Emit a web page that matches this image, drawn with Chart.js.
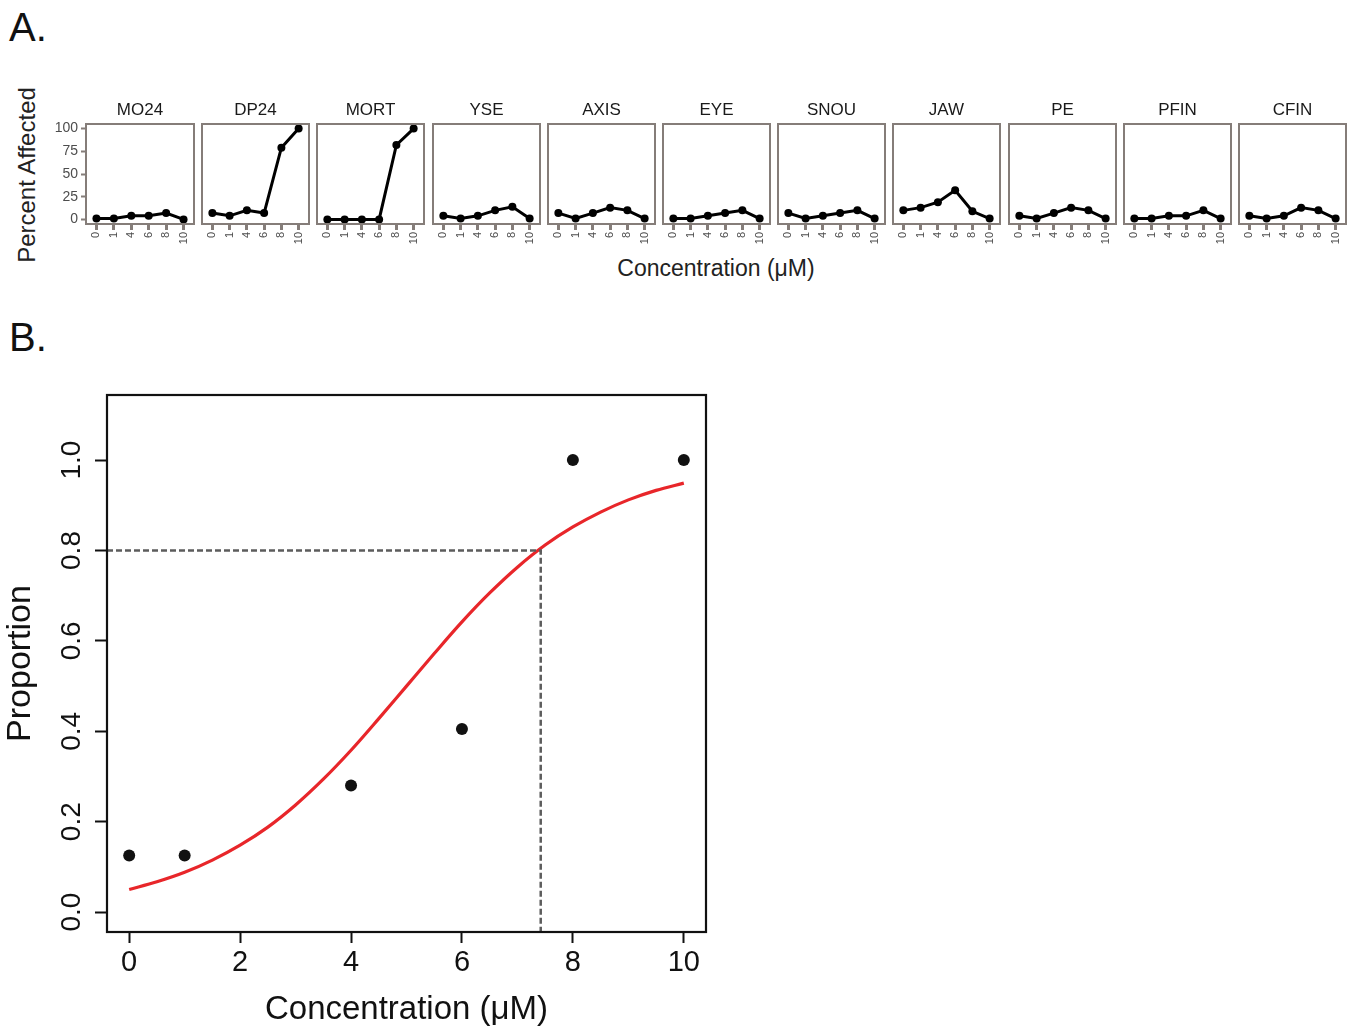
<!DOCTYPE html>
<html>
<head>
<meta charset="utf-8">
<script src="https://cdn.jsdelivr.net/npm/chart.js@4.4.1/dist/chart.umd.min.js"></script>
<style>
    body { margin: 0; background: #fff; font-family: "Liberation Sans", Arial, sans-serif; }
    #fig { position: relative; width: 1356px; height: 1030px; overflow: hidden; background: #fff; }
    #fig canvas { position: absolute; }
    .lbl { position: absolute; white-space: nowrap; line-height: 1; color: #111; }
    .mid { transform: translate(-50%, -50%); }
    .rot { transform: translate(-50%, -50%) rotate(-90deg); }
</style>
</head>
<body>
<div id="fig">
    <div class="lbl" style="left:9px;top:7px;font-size:40px;">A.</div>
    <div class="lbl" style="left:9px;top:317px;font-size:40px;">B.</div>
    <div class="lbl rot" style="left:27px;top:175px;font-size:24px;color:#222;">Percent Affected</div>
    <div class="lbl mid" style="left:716px;top:268px;font-size:23px;color:#222;">Concentration (μM)</div>
</div>

<script>
/* ---------- Panel A: % affected per endpoint ---------- */
const concLabels = ['0', '1', '4', '6', '8', '10'];
const endpoints = ['MO24', 'DP24', 'MORT', 'YSE', 'AXIS', 'EYE', 'SNOU', 'JAW', 'PE', 'PFIN', 'CFIN'];
const mo24 = [1, 1, 4, 4, 7, 0];
const dp24 = [7, 4, 10, 7, 79, 100];
const mort = [0, 0, 0, 0, 82, 100];
const yse  = [4, 1, 4, 10, 14, 1];
const axis = [7, 1, 7, 13, 10, 1];
const eye  = [1, 1, 4, 7, 10, 1];
const snou = [7, 1, 4, 7, 10, 1];
const jaw  = [10, 13, 19, 32, 9, 1];
const pe   = [4, 1, 7, 13, 10, 1];
const pfin = [1, 1, 4, 4, 10, 1];
const cfin = [4, 1, 4, 13, 10, 1];
const percentTicks = [0, 25, 50, 75, 100];

/* ---------- Panel B: proportion vs concentration ---------- */
const doseConc = [0, 1, 4, 6, 8, 10];
const doseProp = [0.125, 0.125, 0.28, 0.405, 1.0, 1.0];
const fitConc = [0, 0.5, 1, 1.5, 2, 2.5, 3, 3.5, 4, 4.5, 5, 5.5, 6, 6.5, 7, 7.5, 8, 8.5, 9, 9.5, 10];
const fitProp = [0.05, 0.067, 0.088, 0.115, 0.148, 0.188, 0.237, 0.294, 0.358, 0.428, 0.5,
                 0.572, 0.642, 0.706, 0.763, 0.812, 0.852, 0.885, 0.912, 0.933, 0.949];
const ec80Conc = 7.42;
const ec80Prop = 0.8;
const propTicks = [0, 0.2, 0.4, 0.6, 0.8, 1.0];
const concTicks = [0, 2, 4, 6, 8, 10];

const seriesA = [mo24, dp24, mort, yse, axis, eye, snou, jaw, pe, pfin, cfin];
const fig = document.getElementById('fig');
const FONT = '"Liberation Sans", Arial, sans-serif';
const FRAME_A = '#857d79';
const TEXT_A = '#4d4d4d';

// box around the plotting area (ggplot panel border / R box())
const framePlugin = {
    id: 'frame',
    afterDraw(chart, args, opts) {
        const { ctx, chartArea: a } = chart;
        ctx.save();
        ctx.strokeStyle = opts.color;
        ctx.lineWidth = opts.width;
        ctx.strokeRect(a.left, a.top, a.right - a.left, a.bottom - a.top);
        ctx.restore();
    }
};

// facet strip label, centred over the panel itself
const stripPlugin = {
    id: 'strip',
    afterDraw(chart, args, opts) {
        const { ctx, chartArea: a } = chart;
        ctx.save();
        ctx.font = opts.font;
        ctx.fillStyle = opts.color;
        ctx.textAlign = 'center';
        ctx.textBaseline = 'middle';
        ctx.fillText(opts.text, (a.left + a.right) / 2, a.top - opts.gap);
        ctx.restore();
    }
};

// R style y tick labels, turned to read bottom-up
const sideTicksPlugin = {
    id: 'sideTicks',
    afterDraw(chart, args, opts) {
        const sc = chart.scales.y;
        const ctx = chart.ctx;
        ctx.save();
        ctx.font = opts.font;
        ctx.fillStyle = opts.color;
        ctx.textAlign = 'center';
        ctx.textBaseline = 'middle';
        sc.ticks.forEach(t => {
            ctx.save();
            ctx.translate(opts.x, sc.getPixelForValue(t.value));
            ctx.rotate(-Math.PI / 2);
            ctx.fillText(t.value.toFixed(1), 0, 0);
            ctx.restore();
        });
        ctx.restore();
    }
};

function addCanvas(left, top, w, h) {
    const c = document.createElement('canvas');
    c.width = w; c.height = h;
    c.style.left = left + 'px';
    c.style.top = top + 'px';
    c.style.width = w + 'px';
    c.style.height = h + 'px';
    fig.appendChild(c);
    return c;
}

// facets
const PANEL_L = 86, PANEL_STEP = 115.2, PANEL_W = 109, PANEL_TOP = 124, PANEL_H = 100;
const TITLE_H = 28, XAX_H = 30, YAX_W = 40;

endpoints.forEach((name, i) => {
    const first = i === 0;
    const areaLeft = Math.round(PANEL_L + i * PANEL_STEP);
    const padL = first ? 0 : 3;
    const left = areaLeft - (first ? YAX_W : padL);
    const w = PANEL_W + (first ? YAX_W : padL) + 3;
    const h = TITLE_H + PANEL_H + XAX_H;
    const cv = addCanvas(left, PANEL_TOP - TITLE_H, w, h);

    new Chart(cv, {
        type: 'line',
        data: {
            datasets: [{
                data: seriesA[i].map((v, k) => ({ x: k, y: v })),
                borderColor: '#000',
                borderWidth: 3,
                pointRadius: 4,
                pointBackgroundColor: '#000',
                pointBorderWidth: 0,
                tension: 0,
                clip: false
            }]
        },
        options: {
            responsive: false,
            animation: false,
            devicePixelRatio: 1,
            layout: { padding: { left: padL, right: 3, top: TITLE_H, bottom: 0 } },
            plugins: {
                legend: { display: false },
                tooltip: { enabled: false },
                strip: { text: name, font: '17px ' + FONT, color: '#1a1a1a', gap: 14 },
                frame: { color: FRAME_A, width: 2 }
            },
            scales: {
                x: {
                    type: 'linear',
                    min: -0.6,
                    max: 5.6,
                    afterBuildTicks: s => { s.ticks = concLabels.map((_, k) => ({ value: k })); },
                    afterFit: s => { s.height = XAX_H; s.paddingLeft = 0; s.paddingRight = 0; },
                    border: { display: false },
                    grid: { drawOnChartArea: false, tickLength: 6, tickWidth: 3, tickColor: FRAME_A },
                    ticks: {
                        autoSkip: false,
                        minRotation: 90,
                        maxRotation: 90,
                        padding: 2,
                        color: TEXT_A,
                        font: { family: FONT, size: 11 },
                        callback: v => concLabels[v]
                    }
                },
                y: {
                    display: first,
                    min: -5,
                    max: 105,
                    afterBuildTicks: s => { s.ticks = percentTicks.map(v => ({ value: v })); },
                    afterFit: s => { s.width = first ? YAX_W : 0; s.paddingTop = 0; s.paddingBottom = 0; },
                    border: { display: false },
                    grid: { drawOnChartArea: false, tickLength: 5, tickWidth: 2, tickColor: FRAME_A },
                    ticks: {
                        padding: 3,
                        color: TEXT_A,
                        font: { family: FONT, size: 14 }
                    }
                }
            }
        },
        plugins: [framePlugin, stripPlugin]
    });
});

// panel B
const cvB = addCanvas(0, 380, 720, 650);

new Chart(cvB, {
    type: 'scatter',
    data: {
        datasets: [
            {
                label: 'cutoff',
                data: [{ x: -0.4, y: ec80Prop }, { x: ec80Conc, y: ec80Prop }, { x: ec80Conc, y: -0.044 }],
                showLine: true,
                borderColor: '#5c5c5c',
                borderWidth: 2.5,
                borderDash: [6, 3],
                pointRadius: 0,
                tension: 0
            },
            {
                label: 'fit',
                data: fitConc.map((x, k) => ({ x, y: fitProp[k] })),
                showLine: true,
                borderColor: '#e8262a',
                borderWidth: 3.2,
                pointRadius: 0,
                cubicInterpolationMode: 'monotone'
            },
            {
                label: 'observed',
                data: doseConc.map((x, k) => ({ x, y: doseProp[k] })),
                pointRadius: 6,
                pointBackgroundColor: '#111',
                pointBorderWidth: 0
            }
        ]
    },
    options: {
        responsive: false,
        animation: false,
        devicePixelRatio: 1,
        layout: { padding: { left: 0, right: 14, top: 15, bottom: 0 } },
        plugins: {
            legend: { display: false },
            tooltip: { enabled: false },
            frame: { color: '#111', width: 2.2 },
            sideTicks: { x: 72, font: '28px ' + FONT, color: '#111' }
        },
        scales: {
            x: {
                type: 'linear',
                min: -0.4,
                max: 10.4,
                afterBuildTicks: s => { s.ticks = concTicks.map(v => ({ value: v })); },
                afterFit: s => { s.height = 98; },
                border: { display: false },
                grid: { drawOnChartArea: false, tickLength: 11, tickWidth: 2, tickColor: '#111' },
                ticks: {
                    padding: 3,
                    color: '#111',
                    font: { family: FONT, size: 29 },
                    maxRotation: 0,
                    callback: v => String(v)
                },
                title: {
                    display: true,
                    text: 'Concentration (μM)',
                    color: '#111',
                    font: { family: FONT, size: 33, lineHeight: 1.2 },
                    padding: { top: 0, bottom: 0 }
                }
            },
            y: {
                min: -0.044,
                max: 1.144,
                afterBuildTicks: s => { s.ticks = propTicks.map(v => ({ value: v })); },
                afterFit: s => { s.width = 107; },
                border: { display: false },
                grid: { drawOnChartArea: false, tickLength: 12, tickWidth: 2, tickColor: '#111' },
                ticks: { display: false },
                title: {
                    display: true,
                    text: 'Proportion',
                    color: '#111',
                    font: { family: FONT, size: 34, lineHeight: 1.2 },
                    padding: { top: 0, bottom: 0 }
                }
            }
        }
    },
    plugins: [framePlugin, sideTicksPlugin]
});
</script>
</body>
</html>
